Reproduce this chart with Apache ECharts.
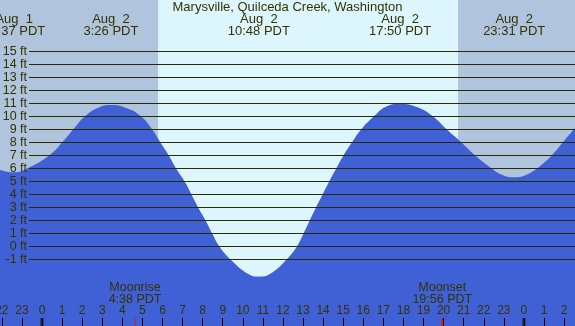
<!DOCTYPE html>
<html>
<head>
<meta charset="utf-8">
<script src="https://cdn.jsdelivr.net/npm/echarts@6/dist/echarts.min.js"></script>
<style>
  html, body { margin: 0; padding: 0; background: #b0c4de; }
  #chart { width: 575px; height: 326px; }
</style>
</head>
<body>
<div id="chart"></div>
<script>
// tide heights (ft), hours relative to Aug 2 00:00
const tideHours = [-3, -2.09, -1.38, -0.72, 0.37, 1.01, 1.56, 2.14, 2.8, 3.43, 4.2, 4.93, 5.48, 5.89, 6.31, 6.67, 7.10, 7.44, 7.77, 8.14, 8.47, 8.83, 9.38, 10.25, 10.8, 11.35, 12.19, 12.70, 13.03, 13.34, 13.65, 13.98, 14.31, 14.66, 15.02, 15.44, 15.90, 16.53, 17.1, 17.83, 18.7, 19.46, 20.15, 20.88, 21.56, 22.38, 22.9, 23.52, 24.1, 24.66, 25.39, 25.94, 26.49, 27];
const tideFeet  = [6.4, 5.87, 5.69, 6.0, 7.0, 8.0, 9.0, 10.0, 10.66, 10.87, 10.64, 10.0, 9.0, 8.0, 7.0, 6.0, 5.0, 4.0, 3.0, 2.0, 1.0, 0.0, -1.0, -2.12, -2.34, -2.14, -1.0, 0.0, 1.0, 2.0, 3.0, 4.0, 5.0, 6.0, 7.0, 8.0, 9.0, 10.0, 10.72, 10.97, 10.69, 10.0, 9.0, 8.0, 7.0, 6.0, 5.51, 5.31, 5.49, 6.0, 7.0, 8.0, 9.0, 9.9];

const titleText = 'Marysville, Quilceda Creek, Washington';
const extremeDays  = ['Aug  1', 'Aug  2', 'Aug  2', 'Aug  2', 'Aug  2'];
const extremeClock = ['22:37', '3:26', '10:48', '17:50', '23:31'];
const moonNames = ['Moonrise', 'Moonset'];
const moonClock = ['4:38', '19:56'];
const sunClock  = ['5:47', '20:43'];   // sunrise, sunset
const midnightHours = [0, 24];

const TEXT = '#333300';
const FONT = '"Liberation Sans", Arial, sans-serif';

function toHour(clock, day) {
  const p = clock.split(':');
  return (+p[0]) + (+p[1]) / 60 + (day === 'Aug  1' ? -24 : 0);
}

// shared horizontal layout: hour -3 .. 27
const gLeft = -18.24, gRight = -9.16;

const chart = echarts.init(document.getElementById('chart'));

const option = {
  backgroundColor: '#b0c4de',
  animation: false,
  grid: [
    { left: gLeft, right: gRight, top: -0.7, bottom: -11.3, outerBoundsMode: 'none' },   // tide
    { left: 29, right: 0, top: 51.3, bottom: 66.7, outerBoundsMode: 'none' },             // ft lines
    { left: gLeft, right: gRight, top: 318, bottom: 0, outerBoundsMode: 'none' }          // hour ticks
  ],
  xAxis: [
    { gridIndex: 0, type: 'value', min: -3, max: 27, interval: 1, show: false },
    { gridIndex: 1, type: 'value', min: 0, max: 1, show: false },
    {
      gridIndex: 2, type: 'value', min: -3, max: 27, interval: 1, z: 6,
      axisLine: { show: false },
      splitLine: { show: false },
      axisTick: { show: true, inside: true, length: 8, lineStyle: { color: '#000', width: 1 } },
      axisLabel: {
        inside: true, margin: 9, color: TEXT, fontSize: 12, fontFamily: FONT,
        showMinLabel: true, showMaxLabel: true,
        formatter: v => String(((v % 24) + 24) % 24)
      }
    }
  ],
  yAxis: [
    { gridIndex: 0, type: 'value', min: -7, max: 19, interval: 1, show: false },
    {
      gridIndex: 1, type: 'value', min: -1, max: 15, interval: 1, z: 5,
      axisLine: { show: false },
      axisTick: { show: false },
      splitLine: { show: true, lineStyle: { color: '#2b2b00', width: 1 } },
      axisLabel: { margin: 2, color: TEXT, fontSize: 12.5, fontFamily: FONT, formatter: '{value} ft' }
    },
    { gridIndex: 2, type: 'value', min: 0, max: 1, show: false }
  ],
  series: [
    {
      type: 'line',
      xAxisIndex: 0, yAxisIndex: 0,
      data: tideHours.map((h, i) => [h, tideFeet[i]]),
      smooth: 0.45,
      showSymbol: false,
      silent: true,
      z: 2,
      lineStyle: { width: 0 },
      areaStyle: { color: '#4060d6', opacity: 1, origin: 'start' },
      markArea: {
        silent: true,
        itemStyle: { color: '#ddf6fe', opacity: 1 },
        data: [[{ xAxis: toHour(sunClock[0]) }, { xAxis: toHour(sunClock[1]) }]]
      }
    },
    {
      type: 'scatter', xAxisIndex: 2, yAxisIndex: 2, silent: true, z: 7,
      symbol: 'rect', symbolSize: [3, 8],
      itemStyle: { color: '#111' },
      data: midnightHours.map(h => [h, 0.5])
    },
    {
      type: 'scatter', xAxisIndex: 2, yAxisIndex: 2, silent: true, z: 7,
      symbol: 'rect', symbolSize: [1, 8],
      itemStyle: { color: '#ff0000' },
      data: [[toHour(moonClock[0]), 0.5]]
    },
    {
      type: 'scatter', xAxisIndex: 2, yAxisIndex: 2, silent: true, z: 7,
      symbol: 'rect', symbolSize: [2, 8],
      itemStyle: { color: '#ff0000' },
      data: [[toHour(moonClock[1]), 0.5]]
    }
  ]
};

chart.setOption(option);

// text labels placed at their times through the axis scale
const graphics = [{
  type: 'text', left: 'center', top: 1, z: 10,
  style: { text: titleText, fill: TEXT, font: '13px ' + FONT }
}];
extremeDays.forEach((d, i) => {
  const x = chart.convertToPixel({ xAxisIndex: 0 }, toHour(extremeClock[i], d));
  graphics.push({
    type: 'text', x: x, y: 25.5, z: 10,
    style: {
      text: d + '\n' + extremeClock[i] + ' PDT', fill: TEXT, font: '13px ' + FONT,
      align: 'center', verticalAlign: 'middle', lineHeight: 12
    }
  });
});
moonNames.forEach((m, i) => {
  const x = chart.convertToPixel({ xAxisIndex: 0 }, toHour(moonClock[i]));
  graphics.push({
    type: 'text', x: x, y: 293.5, z: 10,
    style: {
      text: m + '\n' + moonClock[i] + ' PDT', fill: TEXT, font: '12.5px ' + FONT,
      align: 'center', verticalAlign: 'middle', lineHeight: 12
    }
  });
});
chart.setOption({ graphic: graphics });
</script>
</body>
</html>
